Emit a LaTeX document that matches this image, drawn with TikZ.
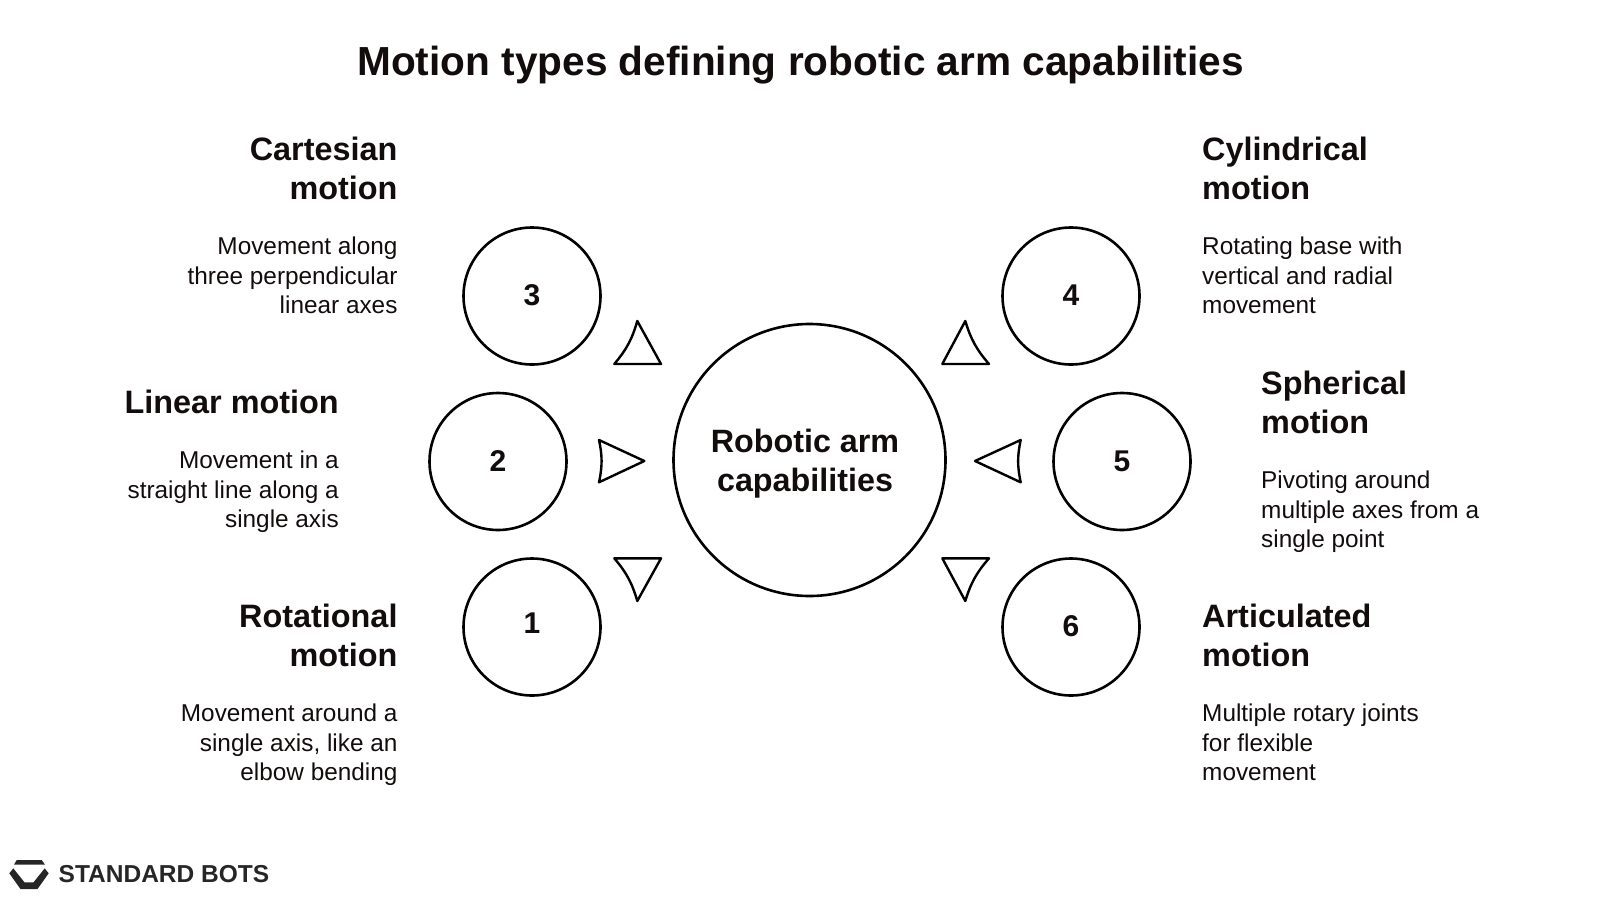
\documentclass[tikz,border=0pt]{standalone}
\usepackage{fontspec}
\setmainfont{Liberation Sans}
\definecolor{inkcol}{HTML}{120C0C}

\begin{document}
\begin{tikzpicture}[x=1pt, y=-1pt, line join=round,
    ringnode/.style={draw=black, line width=2.6pt, circle, inner sep=0pt, minimum size=137pt, text=inkcol, font=\fontsize{30}{30}\selectfont\bfseries},
    hubnode/.style={ringnode, minimum size=272pt},
    hubtext/.style={align=center, inner sep=0pt, text=inkcol, font=\fontsize{32.3}{39}\selectfont\bfseries},
    headleft/.style={align=right, anchor=north east, inner sep=0pt, text=inkcol, font=\fontsize{32.4}{39}\selectfont\bfseries},
    headright/.style={headleft, align=left, anchor=north west},
    textleft/.style={align=right, anchor=north east, inner sep=0pt, text=inkcol, font=\fontsize{24.35}{29.4}\selectfont},
    textright/.style={textleft, align=left, anchor=north west},
    pointer/.style={draw=black, line width=2.4pt}]

\useasboundingbox (0,0) rectangle (1600,900);

% Title
\node[text=inkcol, font=\fontsize{40.6}{40}\selectfont\bfseries] (title) at (800.5,65.5) {Motion types defining robotic arm capabilities};

% Central circle
\node[hubnode] (hub) at (809.5,460) {};
\node[hubtext] (hubname) at (805,464) {Robotic arm\\capabilities};

% Numbered circles
\node[ringnode] (rotational) at (532,627) {\raisebox{8pt}{1}};
\node[ringnode] (linear) at (498,461.5) {2};
\node[ringnode] (cartesian) at (532,296) {\raisebox{2pt}{3}};
\node[ringnode] (cylindrical) at (1071,296) {\raisebox{1pt}{4}};
\node[ringnode] (spherical) at (1122,461.5) {5};
\node[ringnode] (articulated) at (1071,627) {\raisebox{1pt}{6}};

% Left labels
\node[headleft] (cartesianhead) at (397.7,137) {Cartesian\\motion};
\node[textleft] (cartesiantext) at (397.7,237) {Movement along\\three perpendicular\\linear axes};
\node[headleft] (linearhead) at (339,390) {Linear motion};
\node[textleft] (lineartext) at (339,451) {Movement in a\\straight line along a\\single axis};
\node[headleft] (rotationalhead) at (397.7,604) {Rotational\\motion};
\node[textleft] (rotationaltext) at (397.7,704) {Movement around a\\single axis, like an\\elbow bending};

% Right labels
\node[headright] (cylindricalhead) at (1202,137) {Cylindrical\\motion};
\node[textright] (cylindricaltext) at (1202,237) {Rotating base with\\vertical and radial\\movement};
\node[headright] (sphericalhead) at (1261,371) {Spherical\\motion};
\node[textright] (sphericaltext) at (1261,471) {Pivoting around\\multiple axes from a\\single point};
\node[headright] (articulatedhead) at (1202,604) {Articulated\\motion};
\node[textright] (articulatedtext) at (1202,704) {Multiple rotary joints\\for flexible\\movement};

% Triangles around the hub
\draw[pointer] (637.3,321) to[bend left=12] (614.3,364) -- (661,364) -- cycle;
\draw[pointer] (599,440) to[bend left=12] (599,482.3) -- (644.3,461) -- cycle;
\draw[pointer] (637.3,601) to[bend right=12] (614.3,558.3) -- (661,558.3) -- cycle;
\draw[pointer] (965.3,321) to[bend right=12] (989,364) -- (942.3,364) -- cycle;
\draw[pointer] (1020.7,440) to[bend right=12] (1020.7,482.3) -- (975,461) -- cycle;
\draw[pointer] (965.3,601) to[bend left=12] (989,558.3) -- (942.3,558.3) -- cycle;

% Logo
\fill[black!85] (16.7,860) -- (41.7,860) -- (45,864.7) -- (14,864.7) -- cycle;
\fill[black!85] (9.3,873.3) -- (13.3,868.3) -- (24.5,882.3) -- (33.5,882.3) -- (44.7,868.3) -- (48.7,873.3) -- (37.5,889) -- (20.5,889) -- cycle;
\node[anchor=west, inner sep=0pt, text=black!85, font=\fontsize{24.5}{24}\selectfont\bfseries] (brand) at (58.5,874) {STANDARD BOTS};

\end{tikzpicture}
\end{document}
